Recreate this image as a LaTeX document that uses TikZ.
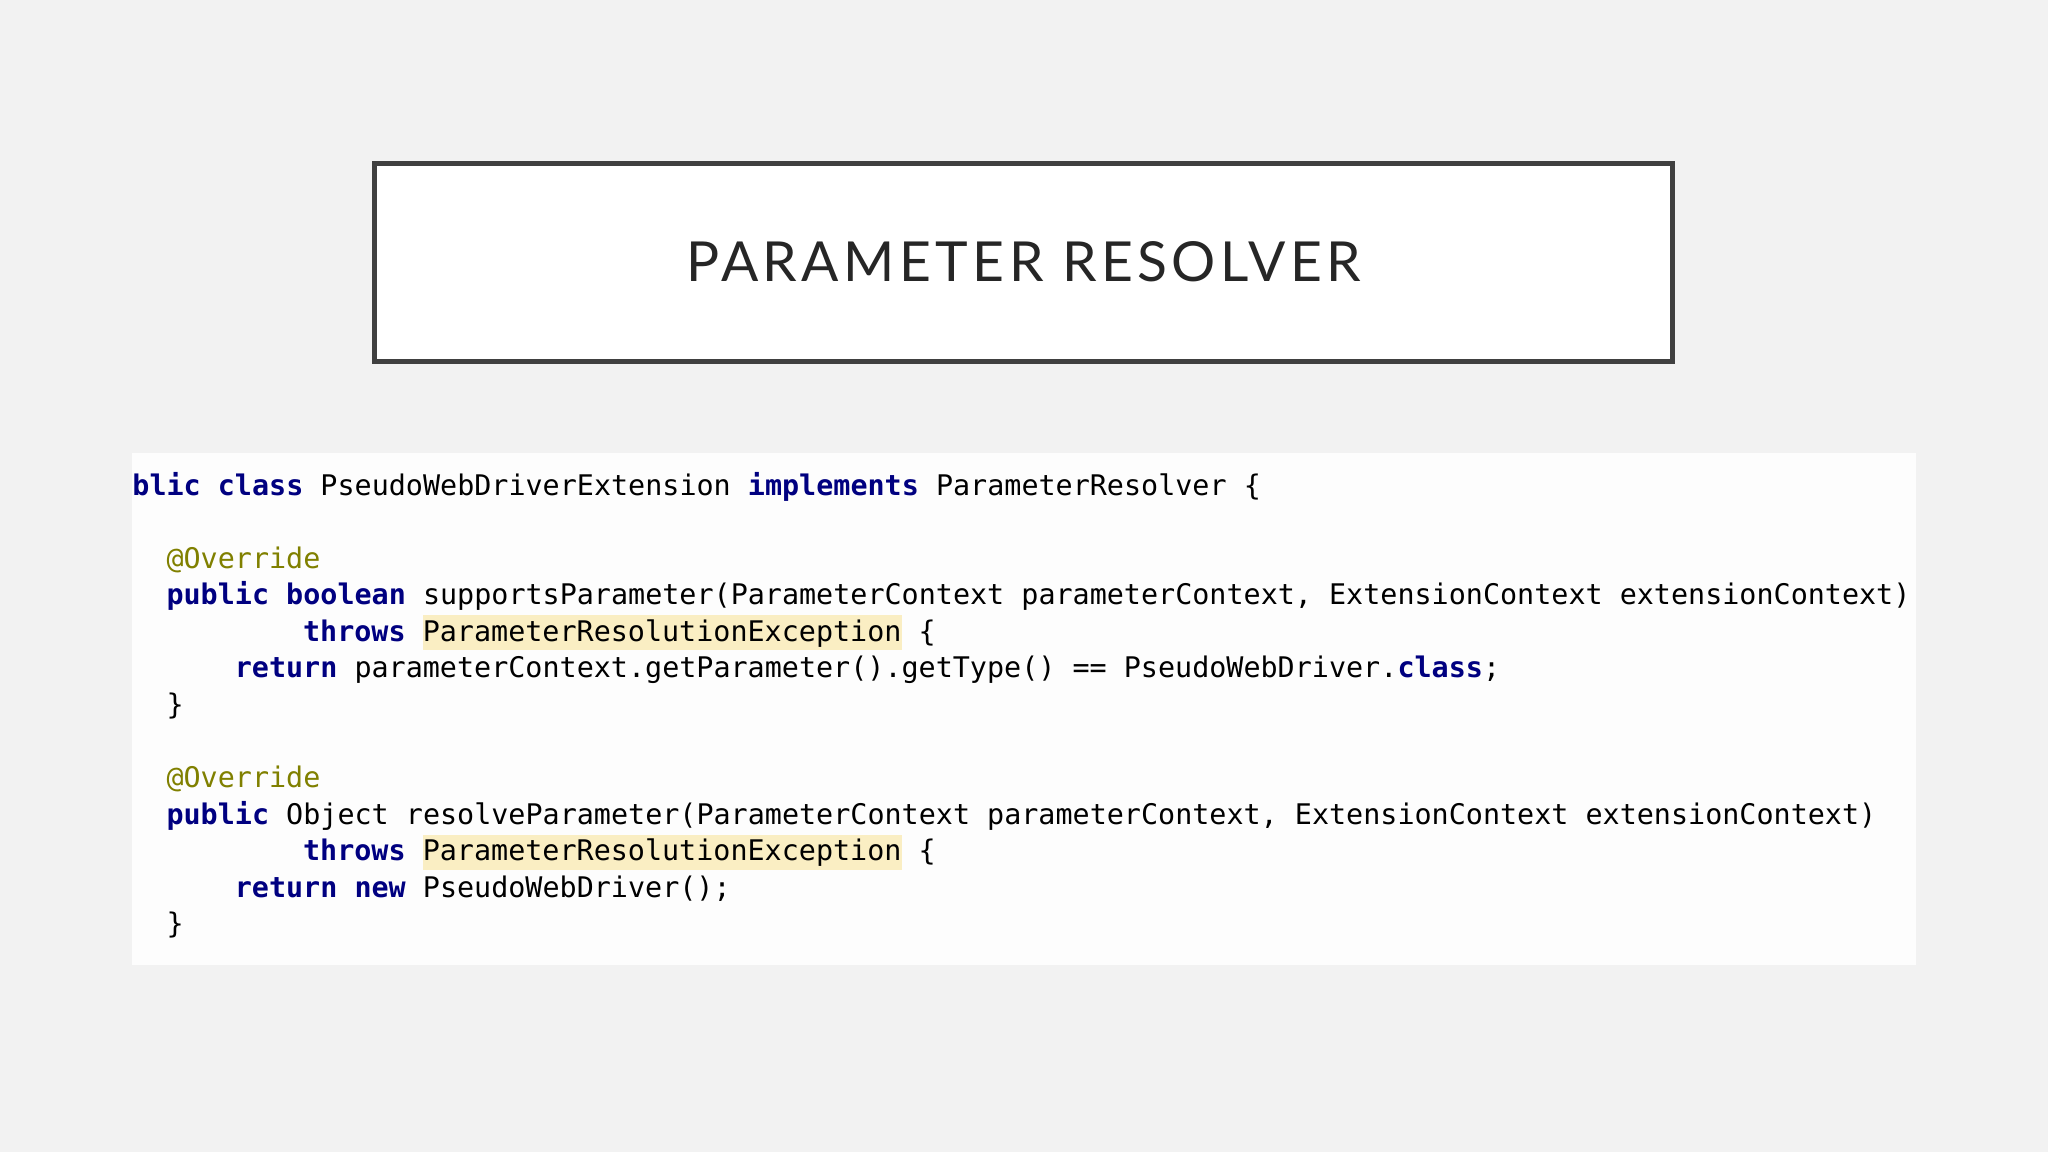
\documentclass[tikz,border=0pt]{standalone}
\usepackage{fontspec}
\setmonofont{DejaVu Sans Mono}
\newfontfamily\titlefont[LetterSpace=8]{Lato}
\definecolor{bg}{RGB}{242,242,242}
\definecolor{panel}{RGB}{253,253,253}
\definecolor{kw}{RGB}{0,0,128}
\definecolor{ann}{RGB}{128,128,0}
\definecolor{hl}{RGB}{250,238,195}
\definecolor{border}{RGB}{64,64,64}
\newcommand{\K}[1]{\textcolor{kw}{\bfseries #1}}
\newcommand{\A}[1]{\textcolor{ann}{#1}}
\newcommand{\HL}[1]{{\setlength{\fboxsep}{0pt}\colorbox{hl}{\rule[-4.5pt]{0pt}{17.5pt}#1}}}
\tikzset{code/.style={anchor=base west,inner sep=0pt,font=\fontsize{14.2}{16}\ttfamily,text=black}}
\begin{document}
\begin{tikzpicture}[x=0.5pt,y=-0.5pt]
\fill[bg] (0,0) rectangle (2048,1152);
\useasboundingbox (0,0) rectangle (2048,1152);
\node[draw=border,line width=2.5pt,fill=white,minimum width=649pt,minimum height=99pt,inner sep=0pt] (title) at (1023.5,262) {};
\node[font=\fontsize{27.6}{32}\titlefont,text=black!85] (tt) at (title.center) {PARAMETER RESOLVER};
\fill[panel] (132,453) rectangle (1916,965);
\def\bx{132}\def\cw{17.07}\def\by{495}\def\lp{36.57}
\node[code] (l0) at (\bx+0*\cw,\by+0*\lp) {\K{blic} \K{class} PseudoWebDriverExtension \K{implements} ParameterResolver \{};
\node[code] (l2) at (\bx+2*\cw,\by+2*\lp) {\A{@Override}};
\node[code] (l3) at (\bx+2*\cw,\by+3*\lp) {\K{public} \K{boolean} supportsParameter(ParameterContext parameterContext, ExtensionContext extensionContext)};
\node[code] (l4) at (\bx+10*\cw,\by+4*\lp) {\K{throws} \HL{ParameterResolutionException} \{};
\node[code] (l5) at (\bx+6*\cw,\by+5*\lp) {\K{return} parameterContext.getParameter().getType() == PseudoWebDriver.\K{class};};
\node[code] (l6) at (\bx+2*\cw,\by+6*\lp) {\}};
\node[code] (l8) at (\bx+2*\cw,\by+8*\lp) {\A{@Override}};
\node[code] (l9) at (\bx+2*\cw,\by+9*\lp) {\K{public} Object resolveParameter(ParameterContext parameterContext, ExtensionContext extensionContext)};
\node[code] (l10) at (\bx+10*\cw,\by+10*\lp) {\K{throws} \HL{ParameterResolutionException} \{};
\node[code] (l11) at (\bx+6*\cw,\by+11*\lp) {\K{return} \K{new} PseudoWebDriver();};
\node[code] (l12) at (\bx+2*\cw,\by+12*\lp) {\}};
\end{tikzpicture}
\end{document}
